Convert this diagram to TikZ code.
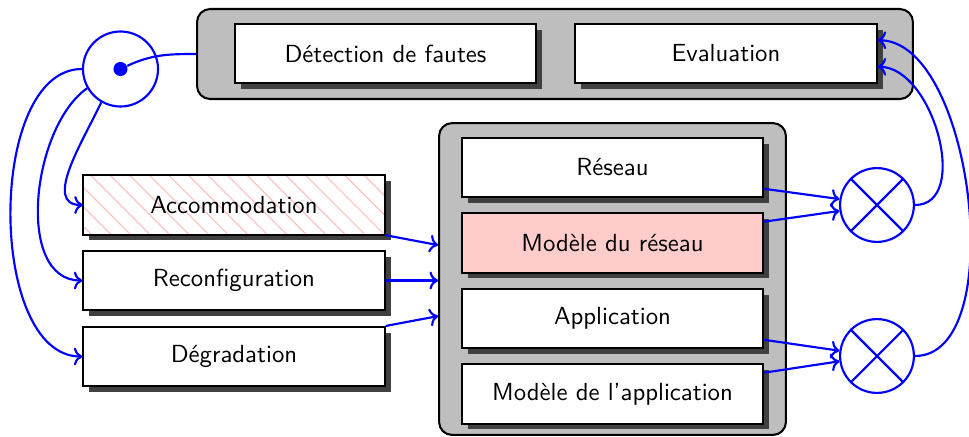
\documentclass[tikz,border=0pt]{standalone}
\usepackage{tikz}
\usetikzlibrary{arrows.meta,shadows,patterns.meta}
\definecolor{Panel}{RGB}{190,190,190}
\definecolor{Shade}{RGB}{64,64,64}
\definecolor{Model}{RGB}{255,204,204}
\definecolor{Hatch}{RGB}{255,195,195}
\newcommand{\MultCross}[1]{% node name
\draw[line width=0.9pt,blue] (#1.45) -- (#1.225) (#1.135) -- (#1.315);
}

\begin{document}
\begin{tikzpicture}[x=0.42pt,y=0.42pt,font=\sffamily\fontsize{10.4}{12.5}\selectfont,
  panel/.style={draw,line width=0.85pt,fill=Panel,rounded corners=5.5pt,inner sep=0pt},
  bloc/.style={draw,line width=0.85pt,fill=white,minimum width=126.5pt,minimum height=24.8pt,inner sep=0pt,
    drop shadow={shadow xshift=2.5pt,shadow yshift=-2.5pt,fill=Shade,opacity=1}},
  flux/.style={->,line width=0.9pt,blue},
  mult/.style={circle,draw=blue,line width=0.9pt,minimum size=31pt,inner sep=0pt}]
\useasboundingbox (0,0) rectangle (969,436);
% panels
\node[panel,minimum width=300.7pt,minimum height=37.8pt] (haut) at (555,382) {};
\node[panel,minimum width=145.7pt,minimum height=131pt] (bas) at (612.5,157) {};
% diagnosis
\node[bloc] (det) at (385.5,382.5) {Détection de fautes};
\node[bloc] (eval) at (726,382.5) {Evaluation};
% system and models
\node[bloc] (res) at (612.5,268.5) {Réseau};
\node[bloc,fill=Model] (modres) at (612.5,193) {Modèle du réseau};
\node[bloc] (app) at (612.5,117.5) {Application};
\node[bloc] (modapp) at (612.5,42) {Modèle de l'application};
% recovery actions
\node[bloc,preaction={fill=white},pattern={Lines[angle=-45,distance=5.8pt,line width=0.5pt]},pattern color=Hatch] (acc) at (234,231) {Accommodation};
\node[bloc] (reconf) at (234,155.5) {Reconfiguration};
\node[bloc] (degr) at (234,79.5) {Dégradation};
% selector and comparators
\node[mult,minimum size=31.5pt] (sel) at (120.5,367) {};
\node[circle,fill=blue,inner sep=0pt,minimum size=5.9pt] (dot) at (sel.center) {};
\node[mult] (m1) at (877,231) {};
\node[mult] (m2) at (877,80) {};
\MultCross{m1}
\MultCross{m2}
% connections
\draw[blue,line width=0.9pt] (dot) to[out=25,in=180] (haut.west);
\draw[flux] (sel.west) to[out=180,in=180,looseness=0.85] (degr.west);
\draw[flux] (sel.210) to[out=215,in=180,looseness=0.9] (reconf.west);
\draw[flux] (sel.240) to[out=245,in=180] (acc.west);
\draw[flux] (acc.south east) -- (bas.169);
\draw[flux] (reconf.east) -- (reconf.east -| bas.west);
\draw[flux] (degr.north east) -- (bas.192);
\draw[flux] (res.-8) -- (m1.171);
\draw[flux] (modres.8) -- (m1.189);
\draw[flux] (app.-8) -- (m2.172);
\draw[flux] (modapp.8) -- (m2.188);
\draw[flux] (m1.east) to[out=0,in=0] (eval.-5);
\draw[flux] (m2.east) to[out=0,in=0,looseness=0.77] (eval.5);
\end{tikzpicture}
\end{document}
